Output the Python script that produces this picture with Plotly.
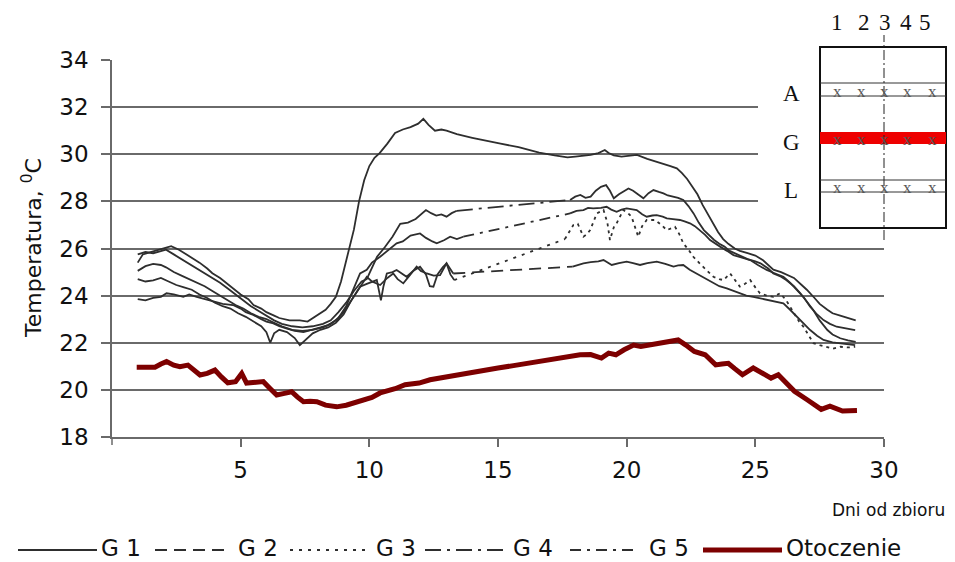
import plotly.graph_objects as go

# ---------------- data ----------------
g1_day = [1.0,1.2,1.5,1.8,2.1,2.3,2.6,2.9,3.2,3.4,3.7,3.9,4.2,4.5,4.8,5.0,5.3,5.5,5.8,6.0,6.3,6.5,6.9,7.3,7.6,7.8,8.1,8.3,8.5,8.7,8.9,9.1,9.4,9.6,9.8,10.0,10.2,10.4,10.7,11.0,11.3,11.6,11.9,12.1,12.3,12.55,12.8,13.0,13.4,14.0,14.5,15.1,15.8,16.6,17.2,17.7,18.0,18.6,18.9,19.15,19.3,19.5,19.8,20.1,20.4,20.8,21.1,21.4,21.7,21.95,22.15,22.35,22.55,22.75,22.95,23.15,23.35,23.55,23.75,23.95,24.2,24.4,24.7,25.0,25.3,25.5,25.7,26.0,26.3,26.5,26.8,27.0,27.3,27.5,27.8,28.0,28.3,28.6,28.9]
g1_temp = [25.40,25.75,25.85,25.95,26.05,26.10,25.95,25.75,25.55,25.40,25.15,24.95,24.75,24.50,24.25,24.05,23.85,23.60,23.45,23.30,23.15,23.05,22.95,22.95,22.90,23.05,23.25,23.40,23.65,23.95,24.60,25.50,26.80,28.00,28.90,29.50,29.85,30.05,30.45,30.90,31.05,31.15,31.30,31.50,31.25,31.00,31.05,31.00,30.85,30.70,30.60,30.45,30.30,30.07,29.95,29.87,29.90,29.97,30.05,30.18,30.05,29.95,29.90,29.93,29.97,29.80,29.70,29.62,29.50,29.40,29.20,28.95,28.60,28.30,27.85,27.45,27.05,26.70,26.40,26.20,26.00,25.90,25.80,25.70,25.50,25.30,25.10,25.00,24.85,24.75,24.45,24.25,23.90,23.65,23.40,23.25,23.15,23.05,22.95]

g2_day = [1.0,1.3,1.6,1.9,2.12,2.4,2.77,3.0,3.29,3.6,4.0,4.3,4.7,5.0,5.2,5.49,5.8,6.0,6.27,6.5,6.8,7.1,7.44,7.8,8.1,8.4,8.7,9.0,9.3,9.6,9.9,10.1,10.42,10.7,10.93,11.1,11.32,11.6,11.84,12.0,12.23,12.5,12.75,13.0,13.26,17.9,18.1,18.32,18.6,18.9,19.1,19.25,19.42,19.7,20.0,20.25,20.52,20.8,21.17,21.5,21.82,22.0,22.2,22.45,22.72,23.0,23.37,23.6,23.89,24.15,24.4,24.65,24.92,25.2,25.57,25.85,26.09,26.35,26.61,26.9,27.13,27.4,27.65,28.0,28.29,28.6,28.88]
g2_temp = [23.85,23.80,23.90,23.95,24.10,24.05,23.95,24.05,23.95,23.85,23.75,23.65,23.60,23.45,23.30,23.18,23.00,22.90,22.82,22.70,22.60,22.50,22.45,22.55,22.65,22.75,22.95,23.30,23.80,24.30,24.80,24.60,24.45,24.75,24.94,24.70,24.52,24.90,25.23,25.05,24.94,24.85,24.87,25.37,24.94,25.23,25.30,25.37,25.42,25.45,25.51,25.40,25.30,25.38,25.44,25.38,25.30,25.38,25.44,25.35,25.23,25.28,25.30,25.10,24.94,24.75,24.52,24.40,24.31,24.20,24.10,24.00,23.95,23.88,23.81,23.75,23.67,23.40,23.10,22.80,22.54,22.30,22.12,22.02,21.98,21.93,21.90]

g3_day = [1.0,1.3,1.6,1.9,2.2,2.5,2.8,3.1,3.4,3.7,4.0,4.3,4.6,4.9,5.2,5.5,5.8,6.0,6.15,6.3,6.5,6.8,7.1,7.3,7.5,7.8,8.1,8.4,8.7,9.0,9.3,9.64,9.9,10.1,10.29,10.45,10.55,10.68,10.9,11.06,11.25,11.45,11.7,11.97,12.2,12.35,12.49,12.65,12.85,13.0,13.15,13.3,17.6,17.8,17.93,18.1,18.32,18.45,18.58,18.84,19.1,19.25,19.35,19.5,19.61,19.87,20.05,20.19,20.32,20.45,20.6,20.78,21.1,21.35,21.56,21.88,22.05,22.2,22.4,22.59,22.85,23.11,23.37,23.6,23.76,24.02,24.2,24.4,24.6,24.8,25.0,25.18,25.45,25.7,25.96,26.2,26.48,26.7,26.87,27.1,27.26,27.5,27.78,28.0,28.3,28.6,28.88]
g3_temp = [24.70,24.60,24.65,24.75,24.60,24.45,24.35,24.25,24.05,23.90,23.70,23.55,23.45,23.25,23.10,22.90,22.70,22.45,22.00,22.40,22.55,22.45,22.20,21.90,22.10,22.40,22.55,22.65,22.85,23.20,23.80,24.38,24.50,24.60,24.66,23.80,24.40,24.94,25.00,25.09,24.95,24.80,25.05,25.23,24.90,24.40,24.38,24.90,25.20,25.37,24.90,24.66,26.40,26.80,27.00,27.05,26.50,26.60,26.78,27.49,27.63,27.10,26.36,26.90,27.07,27.63,27.50,27.35,26.90,26.50,26.95,27.21,27.21,27.00,26.78,26.92,26.60,26.22,25.95,25.65,25.35,25.09,24.80,24.70,24.66,24.94,24.65,24.38,24.50,24.66,24.35,24.10,24.00,23.95,24.10,23.80,23.30,22.90,22.68,22.30,21.98,21.90,21.83,21.75,21.83,21.80,21.83]

g4_day = [1.0,1.3,1.6,1.9,2.1,2.4,2.7,3.0,3.3,3.6,3.9,4.2,4.5,4.8,5.1,5.4,5.7,6.0,6.3,6.6,7.0,7.4,7.8,8.2,8.5,8.8,9.1,9.4,9.7,9.9,10.1,10.3,10.6,10.9,11.2,11.5,11.8,12.0,12.2,12.4,12.6,12.8,13.0,13.2,13.4,17.8,18.0,18.2,18.4,18.6,18.8,19.0,19.2,19.35,19.5,19.7,19.9,20.07,20.25,20.4,20.65,20.85,21.04,21.25,21.43,21.6,21.82,22.0,22.2,22.4,22.6,22.8,23.0,23.2,23.4,23.6,23.8,24.0,24.2,24.45,24.7,25.0,25.2,25.5,25.7,26.0,26.2,26.5,26.75,27.0,27.25,27.5,27.8,28.0,28.3,28.6,28.9]
g4_temp = [25.75,25.85,25.80,25.90,25.95,25.75,25.55,25.35,25.15,24.95,24.75,24.55,24.30,24.05,23.80,23.55,23.35,23.15,22.95,22.80,22.70,22.65,22.70,22.80,22.95,23.30,23.70,24.20,24.60,24.70,25.20,25.65,26.05,26.50,27.05,27.10,27.25,27.45,27.63,27.50,27.40,27.45,27.35,27.50,27.60,28.06,28.20,28.27,28.15,28.20,28.45,28.62,28.69,28.45,28.13,28.30,28.45,28.55,28.45,28.34,28.13,28.35,28.48,28.40,28.34,28.25,28.20,28.15,28.06,27.80,27.49,27.10,26.78,26.55,26.36,26.20,26.08,25.90,25.80,25.70,25.55,25.45,25.37,25.15,24.94,24.80,24.66,24.40,24.10,23.75,23.39,22.95,22.54,22.35,22.19,22.10,22.04]

g5_day = [1.0,1.3,1.6,1.9,2.1,2.4,2.7,3.0,3.3,3.6,3.9,4.2,4.5,4.8,5.1,5.4,5.7,6.0,6.3,6.6,7.0,7.4,7.8,8.2,8.5,8.8,9.1,9.4,9.64,9.9,10.1,10.42,10.7,11.06,11.3,11.6,11.97,12.2,12.45,12.62,12.9,13.14,13.4,13.65,17.8,18.05,18.32,18.5,18.7,19.0,19.22,19.4,19.61,19.8,20.0,20.2,20.39,20.6,20.78,21.0,21.17,21.4,21.56,21.8,22.07,22.25,22.46,22.65,22.85,23.05,23.24,23.45,23.63,23.9,24.15,24.45,24.8,25.1,25.44,25.75,26.09,26.35,26.61,26.9,27.13,27.4,27.65,27.9,28.16,28.5,28.88]
g5_temp = [25.05,25.25,25.35,25.30,25.20,25.00,24.85,24.70,24.55,24.40,24.20,24.00,23.80,23.60,23.45,23.25,23.10,23.00,22.85,22.70,22.55,22.50,22.55,22.65,22.80,23.05,23.55,24.30,24.94,25.10,25.40,25.65,25.90,26.22,26.30,26.55,26.64,26.45,26.30,26.22,26.35,26.50,26.40,26.50,27.49,27.60,27.63,27.72,27.70,27.72,27.77,27.65,27.56,27.65,27.70,27.66,27.63,27.45,27.35,27.40,27.42,27.35,27.28,27.25,27.21,27.15,27.07,26.95,26.78,26.58,26.36,26.20,26.08,25.90,25.72,25.62,25.51,25.30,25.09,24.95,24.80,24.55,24.24,23.90,23.53,23.20,22.96,22.80,22.68,22.60,22.54]

env_day = [0.96,1.67,1.9,2.12,2.4,2.64,2.95,3.2,3.42,3.7,4.0,4.25,4.5,4.8,5.04,5.23,5.5,5.88,6.15,6.4,6.7,6.98,7.2,7.44,7.7,7.96,8.3,8.73,9.1,9.4,9.77,10.1,10.42,10.7,11.0,11.39,11.93,12.36,12.8,13.33,14.0,14.5,15.0,15.6,16.25,16.8,17.4,18.19,18.6,19.02,19.3,19.58,19.9,20.27,20.55,20.9,21.3,21.66,22.0,22.3,22.63,23.05,23.25,23.46,23.7,23.95,24.2,24.5,24.92,25.25,25.61,25.89,26.2,26.52,27.0,27.3,27.56,27.9,28.15,28.39,28.95]
env_temp = [20.96,20.96,21.10,21.20,21.05,20.98,21.05,20.85,20.63,20.70,20.84,20.55,20.30,20.35,20.70,20.29,20.30,20.35,20.05,19.78,19.85,19.92,19.70,19.50,19.52,19.50,19.35,19.28,19.35,19.45,19.57,19.68,19.87,19.95,20.05,20.22,20.29,20.43,20.52,20.64,20.75,20.85,20.93,21.03,21.14,21.25,21.35,21.49,21.50,21.35,21.56,21.49,21.70,21.90,21.84,21.92,22.00,22.05,22.12,21.90,21.63,21.49,21.30,21.06,21.10,21.13,20.90,20.64,20.93,20.75,20.50,20.64,20.30,19.94,19.59,19.35,19.17,19.31,19.20,19.10,19.12]

series_names = ["G 1", "G 2", "G 3", "G 4", "G 5"]
series_days = [g1_day, g2_day, g3_day, g4_day, g5_day]
series_temps = [g1_temp, g2_temp, g3_temp, g4_temp, g5_temp]
env_name = "Otoczenie"

x_ticks = [5, 10, 15, 20, 25, 30]
y_ticks = [18, 20, 22, 24, 26, 28, 30, 32, 34]
inset_cols = ["1", "2", "3", "4", "5"]
inset_rows = ["A", "G", "L"]

# ---------------- styles ----------------
W, H = 955, 562
L, R, T, B = 112, 884, 60, 437
FONT = "DejaVu Sans"
SERIF = "Liberation Serif"
LINE_COLOR = "#2e2e2e"
ENV_COLOR = "#7d0000"
GRID = "#6a6a6a"
LW = 1.8
dash_styles = ["solid", "12px,7px", "3px,6px", "16px,6px,3px,6px", "11px,6px,3px,6px"]
late_styles = ["solid", "solid", "3px,4px", "solid", "solid"]


def X(px):
    return (px - L) / (R - L)


def Y(py):
    return (B - py) / (B - T)


fig = go.Figure()

for name, d, t, dash, late in zip(series_names, series_days, series_temps, dash_styles, late_styles):
    gap = None
    for i in range(len(d) - 1):
        if d[i + 1] - d[i] > 2:
            gap = i
    if gap is None:
        fig.add_trace(go.Scatter(x=d, y=t, mode="lines", name=name, showlegend=False,
                                 line=dict(color=LINE_COLOR, width=LW, dash=dash)))
        continue
    fig.add_trace(go.Scatter(x=d[:gap + 1], y=t[:gap + 1], mode="lines", name=name, showlegend=False,
                             line=dict(color=LINE_COLOR, width=LW)))
    fig.add_trace(go.Scatter(x=d[gap:gap + 2], y=t[gap:gap + 2], mode="lines", name=name, showlegend=False,
                             line=dict(color=LINE_COLOR, width=LW, dash=dash)))
    fig.add_trace(go.Scatter(x=d[gap + 1:], y=t[gap + 1:], mode="lines", name=name, showlegend=False,
                             line=dict(color=LINE_COLOR, width=LW, dash=late)))

fig.add_trace(go.Scatter(x=env_day, y=env_temp, mode="lines", name=env_name, showlegend=False,
                         line=dict(color=ENV_COLOR, width=5)))

shapes = []
annotations = []

# tick mark at the axis origin
shapes.append(dict(type="line", xref="paper", yref="paper", x0=0, x1=0, y0=0, y1=Y(445),
                   line=dict(color=GRID, width=1.5), layer="above"))

# ---- inset diagram ----
shapes.append(dict(type="rect", xref="paper", yref="paper", x0=X(758), x1=X(955), y0=Y(242), y1=Y(0),
                   fillcolor="white", line=dict(width=0), layer="above"))
shapes.append(dict(type="rect", xref="paper", yref="paper", x0=X(820), x1=X(946), y0=Y(228), y1=Y(47),
                   fillcolor="rgba(0,0,0,0)", line=dict(color="#111", width=2), layer="above"))
for y0, y1 in [(83, 96), (180, 192)]:
    for yy in (y0, y1):
        shapes.append(dict(type="line", xref="paper", yref="paper", x0=X(820), x1=X(946), y0=Y(yy), y1=Y(yy),
                           line=dict(color="#333", width=1), layer="above"))
shapes.append(dict(type="rect", xref="paper", yref="paper", x0=X(820), x1=X(946), y0=Y(144), y1=Y(132),
                   fillcolor="#ee0000", line=dict(width=0), layer="above"))
shapes.append(dict(type="line", xref="paper", yref="paper", x0=X(884), x1=X(884), y0=Y(240), y1=Y(35),
                   line=dict(color="#222", width=1, dash="10px,3px,2px,3px"), layer="above"))

col_px = [837, 864, 885, 906, 925]
mark_px = [837, 861, 884, 907, 932]
row_py = [93, 142, 191]
band_py = [90, 138, 186]
for c, px in zip(inset_cols, col_px):
    annotations.append(dict(text=c, xref="paper", yref="paper", x=X(px), y=Y(23), showarrow=False,
                            xanchor="center", yanchor="middle", font=dict(family=SERIF, size=23, color="#111")))
for r, py in zip(inset_rows, row_py):
    annotations.append(dict(text=r, xref="paper", yref="paper", x=X(791), y=Y(py), showarrow=False,
                            xanchor="center", yanchor="middle", font=dict(family=SERIF, size=23, color="#111")))
for by in band_py:
    for px in mark_px:
        annotations.append(dict(text="x", xref="paper", yref="paper", x=X(px), y=Y(by + 1), showarrow=False,
                                xanchor="center", yanchor="middle", font=dict(family=SERIF, size=17, color="#555")))

# ---- legend (manual) ----
leg_line = [(18, 97), (155, 230), (290, 366), (425, 503), (570, 638), (703, 782)]
leg_text = [100, 237, 375, 512, 648, 785]
leg_names = series_names + [env_name]
leg_styles = dash_styles + ["solid"]
leg_colors = [LINE_COLOR] * 5 + [ENV_COLOR]
leg_widths = [LW] * 5 + [5]
LEG_Y = 548
for (a, b), tx, nm, st, col, wd in zip(leg_line, leg_text, leg_names, leg_styles, leg_colors, leg_widths):
    shapes.append(dict(type="line", xref="paper", yref="paper", x0=X(a), x1=X(b), y0=Y(LEG_Y + 2), y1=Y(LEG_Y + 2),
                       line=dict(color=col, width=wd, dash=st), layer="above"))
    annotations.append(dict(text=nm, xref="paper", yref="paper", x=X(tx), y=Y(LEG_Y), showarrow=False,
                            xanchor="left", yanchor="middle", borderpad=0,
                            font=dict(family=FONT, size=23, color="#111")))

# ---- axis titles ----
annotations.append(dict(text="Temperatura, <sup>0</sup>C", xref="paper", yref="paper", x=X(32), y=Y(248),
                        textangle=-90, showarrow=False, xanchor="center", yanchor="middle",
                        font=dict(family=FONT, size=22, color="#111")))
annotations.append(dict(text="Dni od zbioru", xref="paper", yref="paper", x=X(888), y=Y(510),
                        showarrow=False, xanchor="center", yanchor="middle",
                        font=dict(family=FONT, size=17, color="#111")))

fig.update_layout(
    width=W, height=H,
    margin=dict(l=L, r=W - R, t=T, b=H - B, autoexpand=False),
    paper_bgcolor="white", plot_bgcolor="white",
    font=dict(family=FONT, size=22, color="#111"),
    showlegend=False,
    shapes=shapes,
    annotations=annotations,
    xaxis=dict(range=[0, 30], tickvals=x_ticks,
               ticks="outside", ticklen=8, tickwidth=1.5, tickcolor=GRID,
               showline=True, linecolor=GRID, linewidth=1.5, showgrid=False, zeroline=False,
               ticklabelstandoff=4, tickfont=dict(family=FONT, size=23, color="#111")),
    yaxis=dict(range=[18, 34], tickvals=y_ticks, ticks="outside", ticklen=9, tickwidth=1.5, tickcolor=GRID,
               showline=True, linecolor=GRID, linewidth=1.5, showgrid=True, gridcolor=GRID, gridwidth=1.5,
               zeroline=False, ticklabelstandoff=8, tickfont=dict(family=FONT, size=23, color="#111")),
)

fig.write_html("out.html")
